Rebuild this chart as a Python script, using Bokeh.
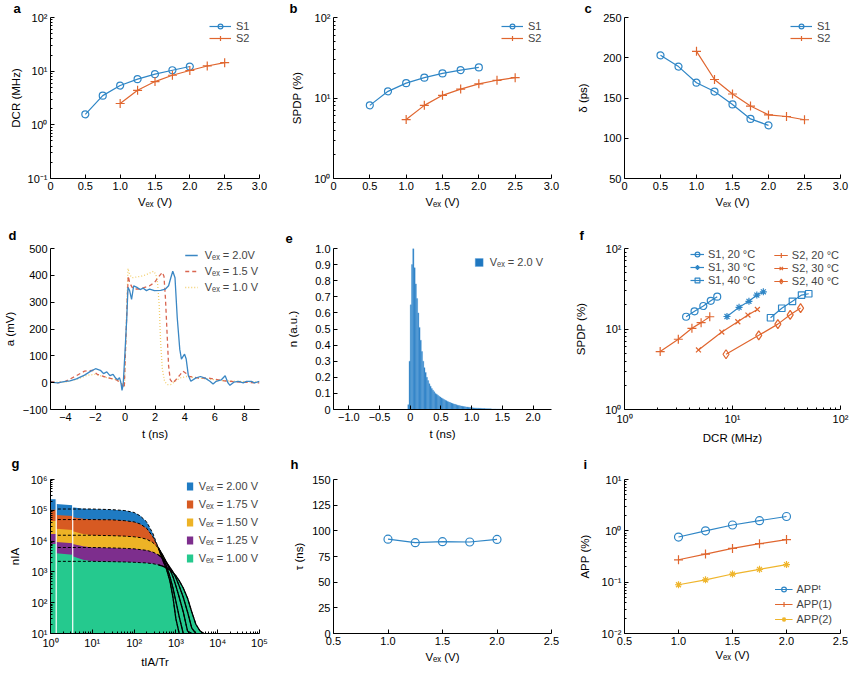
from bokeh.plotting import figure
from bokeh.layouts import gridplot
from bokeh.models import (Legend, LegendItem, Title, FixedTicker,
                          CustomJSTickFormatter, Range1d)
from bokeh.embed import file_html
from bokeh.resources import INLINE

FONT = "Liberation Sans"
TICK_FS = "11px"
AX_FS = "11.5px"
LEG_FS = "11px"
SUBX = "\u2091\u2093"  # subscript "ex"

C_BLUE = "#2f86c6"
C_ORANGE = "#e0662f"
C_YELLOW = "#efb52c"
D_BLUE = "#3a87c4"
D_RED = "#d96650"
D_YEL = "#f2cf6e"
E_BLUE = "#1f77c0"
G_COLORS = ["#1f7bc3", "#d75a22", "#edb326", "#7d2e8d", "#25c98e"]

# ---------------- data ----------------
# a, b, c
vex_s1 = [0.5, 0.75, 1.0, 1.25, 1.5, 1.75, 2.0]
vex_s2 = [1.0, 1.25, 1.5, 1.75, 2.0, 2.25, 2.5]
dcr_s1 = [1.57, 3.5, 5.4, 7.1, 8.8, 10.4, 12.2]
dcr_s2 = [2.5, 4.4, 6.4, 8.4, 10.3, 12.5, 14.4]
spdp_s1 = [8.1, 12.1, 15.3, 17.9, 20.2, 22.2, 24.0]
spdp_s2 = [5.4, 8.1, 10.8, 12.9, 15.0, 16.6, 17.9]
jit_s1 = [203, 189, 169, 158, 142, 124, 116]
jit_s2 = [208, 173, 155, 140, 129, 127, 123]

# d: pulse waveforms
d_t_20 = [-5, -4.53, -4, -3.7, -3.26, -2.72, -2.3, -1.98, -1.66, -1.45, -1.23, -1.02, -0.81, -0.64,
          -0.49, -0.38, -0.28, -0.21, -0.13, 0, 0.11, 0.19, 0.30, 0.43, 0.57, 0.79, 1.0, 1.21, 1.43,
          1.64, 1.96, 2.38, 2.70, 2.91, 3.06, 3.19, 3.34, 3.49, 3.66, 3.77, 3.87, 3.98, 4.09, 4.23,
          4.40, 4.72, 5.04, 5.36, 5.68, 5.89, 6.10, 6.43, 6.70, 6.89, 7.02, 7.28, 7.60, 7.91, 8.13,
          8.45, 8.66, 9.0]
d_a_20 = [2, -1, 5, 7, 14, 28, 43, 52, 46, 34, 40, 26, 31, 17, 11, 19, -1, -29, -7, 124, 242, 355,
          343, 310, 361, 355, 347, 352, 343, 349, 343, 344, 349, 361, 391, 415, 391, 242, 124, 88,
          97, 106, 88, 28, 5, 17, 23, 17, 5, -5, 5, 10, 26, -1, -10, 2, 5, -1, 5, 5, -1, 5]
d_t_15 = [-5, -4.5, -4, -3.36, -2.72, -2.19, -1.87, -1.23, -0.6, -0.28, -0.06, 0.04, 0.15, 0.21,
          0.30, 0.47, 0.68, 1.0, 1.32, 1.64, 1.96, 2.28, 2.49, 2.60, 2.70, 2.81, 2.91, 3.02, 3.19,
          3.40, 3.66, 3.87, 4.09, 4.30, 4.94, 5.57, 6.64, 7.70, 9.0]
d_a_15 = [5, -1, 5, 23, 43, 46, 31, 19, 11, -1, -19, 147, 325, 397, 373, 355, 349, 349, 355, 361,
          373, 397, 411, 397, 314, 183, 64, 11, -1, 11, 28, 43, 34, 23, 17, 17, 7, 2, -1]
d_t_10 = [-5, -4, -3.15, -2.51, -1.98, -1.23, -0.6, -0.17, -0.04, 0.09, 0.19, 0.30, 0.47, 0.79,
          1.11, 1.43, 1.74, 1.91, 2.06, 2.17, 2.28, 2.38, 2.49, 2.64, 2.81, 3.06, 3.34, 3.66, 4.09,
          4.94, 6.64, 9.0]
d_a_10 = [2, 2, 14, 28, 31, 19, 11, -1, -13, 242, 426, 403, 391, 394, 397, 403, 411, 415, 403, 373,
          290, 147, 52, 5, -7, -7, 5, 17, 23, 17, 7, 2]

# e: timing histogram (bin centres, width 0.02 ns)
e_t = [-0.03, -0.01, 0.01, 0.03, 0.05, 0.07, 0.09, 0.11, 0.13, 0.15, 0.17, 0.19, 0.21, 0.23, 0.25,
       0.27, 0.29, 0.31, 0.33, 0.35, 0.37, 0.39, 0.41, 0.43, 0.45, 0.47, 0.49, 0.51, 0.53, 0.55,
       0.57, 0.59, 0.61, 0.63, 0.65, 0.67, 0.69, 0.71, 0.73, 0.75, 0.77, 0.79, 0.81, 0.83, 0.85,
       0.87, 0.89, 0.91, 0.93, 0.95, 0.97, 0.99, 1.01, 1.03, 1.05, 1.07, 1.09, 1.11, 1.13, 1.15,
       1.17, 1.19, 1.21, 1.23, 1.25, 1.27, 1.29, 1.31, 1.33, 1.35, 1.37, 1.39, 1.41, 1.43, 1.45,
       1.47, 1.49]
e_n = [0.03, 0.30, 0.65, 0.90, 1.00, 0.88, 0.78, 0.69, 0.60, 0.51, 0.43, 0.36, 0.30, 0.26, 0.23,
       0.20, 0.18, 0.16, 0.145, 0.13, 0.12, 0.11, 0.10, 0.095, 0.088, 0.082, 0.077, 0.072, 0.067,
       0.062, 0.058, 0.054, 0.050, 0.046, 0.043, 0.040, 0.037, 0.034, 0.032, 0.029, 0.027, 0.025,
       0.023, 0.021, 0.020, 0.018, 0.017, 0.016, 0.015, 0.014, 0.013, 0.012, 0.011, 0.010, 0.009,
       0.009, 0.008, 0.008, 0.007, 0.007, 0.006, 0.006, 0.006, 0.005, 0.005, 0.004, 0.004, 0.004,
       0.003, 0.003, 0.003, 0.003, 0.002, 0.002, 0.002, 0.002, 0.002]
e_width = 0.02

# f: SPDP vs DCR
f_s1_20_x = [3.72, 4.45, 5.37, 6.29, 7.22]; f_s1_20_y = [14.2, 16.6, 19.3, 22.4, 25.2]
f_s1_30_x = [8.89, 11.5, 14.2, 16.8, 19.3]; f_s1_30_y = [14.3, 18.6, 22.1, 26.4, 29.0]
f_s1_40_x = [22.5, 28.6, 35.9, 43.6, 50.8]; f_s1_40_y = [13.8, 18.1, 22.1, 26.4, 27.4]
f_s2_20_x = [2.14, 3.15, 4.21, 5.12, 6.16]; f_s2_20_y = [5.24, 7.46, 10.2, 12.0, 14.2]
f_s2_30_x = [4.84, 7.96, 11.2, 13.9, 17.0]; f_s2_30_y = [5.49, 9.16, 12.3, 14.9, 17.5]
f_s2_40_x = [8.71, 17.5, 26.3, 34.2, 42.7]; f_s2_40_y = [4.86, 8.34, 11.5, 15.0, 18.2]

# g: inter-arrival histograms (upper envelope)
t_g = [1, 1.37, 1.37, 3.4, 3.4, 6, 10, 30, 60, 100, 140, 200, 280, 380, 480, 600, 720, 850,
       1000, 1200, 1500, 1900, 2400, 3000, 3800, 4700, 5800]
g_200 = [2.3e5, 2.3e5, 1.6e5, 1.45e5, 1.25e5, 1.12e5, 1.1e5, 1.05e5, 9.8e4, 8.5e4, 6.6e4, 4.2e4,
         1.8e4, 6e3, 2.5e3, 1.2e3, 500, 150, 30, 10, 10, 10, 10, 10, 10, 10, 10]
g_175 = [1.05e5, 1.05e5, 7e4, 6.5e4, 6e4, 5.3e4, 5e4, 4.9e4, 4.6e4, 4.2e4, 3.6e4, 2.6e4, 1.4e4,
         6.2e3, 3e3, 1.5e3, 700, 300, 110, 35, 10, 10, 10, 10, 10, 10, 10]
g_150 = [4.5e4, 4.5e4, 2.5e4, 2.3e4, 2.1e4, 1.7e4, 1.55e4, 1.5e4, 1.45e4, 1.38e4, 1.3e4, 1.15e4,
         9e3, 6e3, 3.6e3, 2e3, 1.2e3, 700, 350, 150, 50, 12, 10, 10, 10, 10, 10]
g_125 = [1.7e4, 1.7e4, 9.3e3, 8.5e3, 8e3, 6.8e3, 6.2e3, 6e3, 5.8e3, 5.6e3, 5.3e3, 5e3, 4.4e3,
         3.6e3, 2.8e3, 2e3, 1.4e3, 1e3, 650, 350, 150, 50, 15, 10, 10, 10, 10]
g_100 = [8e3, 8e3, 4e3, 3.6e3, 3.2e3, 2.5e3, 2.2e3, 2.15e3, 2.1e3, 2.05e3, 2e3, 1.95e3, 1.85e3,
         1.7e3, 1.55e3, 1.35e3, 1.15e3, 950, 750, 520, 300, 140, 50, 20, 12, 10, 10]
g_series = [g_200, g_175, g_150, g_125, g_100]
g_labels = [f"V{SUBX} = 2.00 V", f"V{SUBX} = 1.75 V", f"V{SUBX} = 1.50 V",
            f"V{SUBX} = 1.25 V", f"V{SUBX} = 1.00 V"]
g_gaps = [1.37, 3.4]
g_floor = 10

# h
vex_h = [1.0, 1.25, 1.5, 1.75, 2.0]
tau_h = [91.9, 88.5, 89.4, 89.1, 91.6]

# i
vex_i = [1.0, 1.25, 1.5, 1.75, 2.0]
app_t = [0.757, 1.00, 1.30, 1.58, 1.90]
app_1 = [0.273, 0.352, 0.454, 0.562, 0.676]
app_2 = [0.089, 0.111, 0.144, 0.178, 0.220]

# ---------------- helpers ----------------
LOG_JS = r"""
const s = {'-':'\u207b','0':'\u2070','1':'\u00b9','2':'\u00b2','3':'\u00b3','4':'\u2074',
           '5':'\u2075','6':'\u2076','7':'\u2077','8':'\u2078','9':'\u2079'};
const e = Math.round(Math.log10(tick));
return '10' + String(e).split('').map(c => s[c]).join('');
"""
DEC1_JS = r"""
if (Math.abs(tick) < 1e-9) { return '0'; }
return tick.toFixed(1).replace('-', '\u2212');
"""
INT_JS = r"""
if (Math.abs(tick) < 1e-9) { return '0'; }
return tick.toFixed(0).replace('-', '\u2212');
"""

W = 283


def make_fig(xr, yr, borders, xlabel, ylabel, xs, ys, xlog=False, ylog=False, h=223):
    l, r, t, b = borders
    p = figure(width=W, height=h, x_range=Range1d(*xr), y_range=Range1d(*yr),
               x_axis_type="log" if xlog else "linear",
               y_axis_type="log" if ylog else "linear",
               output_backend="svg", toolbar_location=None, title=None,
               min_border_left=l, min_border_right=r, min_border_top=t, min_border_bottom=b)
    p.xgrid.visible = False
    p.ygrid.visible = False
    p.outline_line_color = None
    for ax in (p.xaxis[0], p.yaxis[0]):
        ax.axis_line_color = "black"
        ax.major_tick_in = 4
        ax.major_tick_out = 0
        ax.minor_tick_in = 2
        ax.minor_tick_out = 0
        ax.major_tick_line_color = "black"
        ax.minor_tick_line_color = "black"
        ax.major_label_text_font = FONT
        ax.major_label_text_font_size = TICK_FS
        ax.major_label_text_color = "black"
        ax.major_label_standoff = 3
        ax.axis_label_text_font = FONT
        ax.axis_label_text_font_size = AX_FS
        ax.axis_label_text_font_style = "normal"
        ax.axis_label_text_color = "black"
    p.xaxis.axis_label = xlabel
    p.yaxis.axis_label = ylabel
    p.xaxis.axis_label_standoff = xs
    p.yaxis.axis_label_standoff = ys
    if not xlog:
        p.xaxis.minor_tick_line_color = None
    if not ylog:
        p.yaxis.minor_tick_line_color = None
    return p


def letter(p, t, offset, standoff):
    p.add_layout(Title(text=t, align="left", offset=offset, standoff=standoff,
                       vertical_align="top", text_font=FONT, text_font_size="13px",
                       text_font_style="bold", text_color="black"), "above")


def log_axis(ax, lo, hi):
    ax.ticker = FixedTicker(ticks=[10.0 ** k for k in range(lo, hi + 1)],
                            minor_ticks=[m * 10.0 ** k for k in range(lo, hi) for m in range(2, 10)])
    ax.formatter = CustomJSTickFormatter(code=LOG_JS)


def lin_axis(ax, ticks, js):
    ax.ticker = FixedTicker(ticks=ticks)
    ax.formatter = CustomJSTickFormatter(code=js)


def legend(p, items, loc, gw=22, gh=12, lh=12, sp=0, standoff=5, margin=0, fs=LEG_FS):
    lg = Legend(items=items, location=loc, orientation="vertical",
                background_fill_alpha=0, border_line_alpha=0,
                label_text_font=FONT, label_text_font_size=fs,
                glyph_width=gw, glyph_height=gh, label_height=lh,
                spacing=sp, padding=0, margin=margin, label_standoff=standoff)
    p.add_layout(lg)


def series(p, x, y, color, marker, size=7):
    r1 = p.line(x, y, line_color=color, line_width=1.2)
    r2 = p.scatter(x, y, marker=marker, size=size, line_color=color, fill_color=None,
                   line_width=1.2)
    return [r1, r2]


VEX = f"V{SUBX} (V)"
X_TICKS_03 = [0, 0.5, 1, 1.5, 2, 2.5, 3]

# ---------------- a ----------------
pa = make_fig((0, 3), (0.1, 100), (38, 24, 15, 44), VEX, "DCR (MHz)", 3, 3, ylog=True)
lin_axis(pa.xaxis[0], X_TICKS_03, DEC1_JS)
log_axis(pa.yaxis[0], -1, 2)
ra1 = series(pa, vex_s1, dcr_s1, C_BLUE, "circle")
ra2 = series(pa, vex_s2, dcr_s2, C_ORANGE, "cross", size=9)
legend(pa, [LegendItem(label="S1", renderers=ra1), LegendItem(label="S2", renderers=ra2)],
       "top_right", margin=3)
letter(pa, "a", -37, 0)

# ---------------- b ----------------
pb = make_fig((0, 3), (1, 100), (47, 15, 15, 44), VEX, "SPDP (%)", 3, 8, ylog=True)
lin_axis(pb.xaxis[0], X_TICKS_03, DEC1_JS)
log_axis(pb.yaxis[0], 0, 2)
rb1 = series(pb, vex_s1, spdp_s1, C_BLUE, "circle")
rb2 = series(pb, vex_s2, spdp_s2, C_ORANGE, "cross", size=9)
legend(pb, [LegendItem(label="S1", renderers=rb1), LegendItem(label="S2", renderers=rb2)],
       "top_right", margin=3)
letter(pb, "b", -44, 0)

# ---------------- c ----------------
pc = make_fig((0, 3), (50, 250), (54, 8, 16, 45), VEX, "\u03b4 (ps)", 3, 11)
lin_axis(pc.xaxis[0], X_TICKS_03, DEC1_JS)
lin_axis(pc.yaxis[0], [50, 100, 150, 200, 250], INT_JS)
rc1 = series(pc, vex_s1, jit_s1, C_BLUE, "circle")
rc2 = series(pc, vex_s2, jit_s2, C_ORANGE, "cross", size=9)
legend(pc, [LegendItem(label="S1", renderers=rc1), LegendItem(label="S2", renderers=rc2)],
       "top_right", margin=3)
letter(pc, "c", -40, 0)

# ---------------- d ----------------
pd_ = make_fig((-5, 9), (-100, 500), (43, 20, 22, 33), "t (ns)", "a (mV)", 4, 4)
lin_axis(pd_.xaxis[0], [-4, -2, 0, 2, 4, 6, 8], INT_JS)
lin_axis(pd_.yaxis[0], [-100, 0, 100, 200, 300, 400, 500], INT_JS)
rd3 = pd_.line(d_t_10, d_a_10, line_color=D_YEL, line_width=1.3, line_dash="1 2")
rd2 = pd_.line(d_t_15, d_a_15, line_color=D_RED, line_width=1.3, line_dash="4 3")
rd1 = pd_.line(d_t_20, d_a_20, line_color=D_BLUE, line_width=1.3)
legend(pd_, [LegendItem(label=f"V{SUBX} = 2.0V", renderers=[rd1]),
             LegendItem(label=f"V{SUBX} = 1.5 V", renderers=[rd2]),
             LegendItem(label=f"V{SUBX} = 1.0 V", renderers=[rd3])],
       "top_right", gw=13, gh=12, lh=12, sp=4, standoff=7, margin=1)
letter(pd_, "d", -42, 8)

# ---------------- e ----------------
pe = make_fig((-1.25, 2.3), (0, 1.0), (50, 10, 22, 33), "t (ns)", "n (a.u.)", 4, 13)
lin_axis(pe.xaxis[0], [-1, -0.5, 0, 0.5, 1, 1.5, 2], DEC1_JS)
lin_axis(pe.yaxis[0], [0, 0.1, 0.2, 0.3, 0.4, 0.5, 0.6, 0.7, 0.8, 0.9, 1.0], DEC1_JS)
re1 = pe.vbar(x=e_t, top=e_n, width=e_width, bottom=0, fill_color=E_BLUE,
              line_color="#5fa4dc", line_width=0.4)
legend(pe, [LegendItem(label=f"V{SUBX} = 2.0 V", renderers=[re1])],
       "top_right", gw=10, gh=10, lh=12, standoff=6, margin=8)
letter(pe, "e", -48, 8)

# ---------------- f ----------------
pf = make_fig((1, 100), (1, 100), (58, 9, 22, 36), "DCR (MHz)", "SPDP (%)", 4, 15,
              xlog=True, ylog=True)
log_axis(pf.xaxis[0], 0, 2)
log_axis(pf.yaxis[0], 0, 2)
rf1 = series(pf, f_s1_20_x, f_s1_20_y, C_BLUE, "circle")
rf2 = series(pf, f_s1_30_x, f_s1_30_y, C_BLUE, "asterisk")
rf3 = series(pf, f_s1_40_x, f_s1_40_y, C_BLUE, "square", size=6.5)
rf4 = series(pf, f_s2_20_x, f_s2_20_y, C_ORANGE, "cross", size=9)
rf5 = series(pf, f_s2_30_x, f_s2_30_y, C_ORANGE, "x", size=7)
rf6 = series(pf, f_s2_40_x, f_s2_40_y, C_ORANGE, "diamond", size=9)
legend(pf, [LegendItem(label="S1, 20 \u00b0C", renderers=rf1),
            LegendItem(label="S1, 30 \u00b0C", renderers=rf2),
            LegendItem(label="S1, 40 \u00b0C", renderers=rf3)],
       (66, 123), gw=14, gh=12, lh=12, sp=1, standoff=4)
legend(pf, [LegendItem(label="S2, 20 \u00b0C", renderers=rf4),
            LegendItem(label="S2, 30 \u00b0C", renderers=rf5),
            LegendItem(label="S2, 40 \u00b0C", renderers=rf6)],
       "top_right", gw=14, gh=12, lh=12, sp=1, standoff=4, margin=1)
letter(pf, "f", -45, 8)

# ---------------- g ----------------
pg = make_fig((1, 1e5), (10, 1e6), (40, 24, 33, 32), "tIA/Tr", "nIA", 4, 7,
              xlog=True, ylog=True, h=224)
log_axis(pg.xaxis[0], 0, 5)
log_axis(pg.yaxis[0], 1, 6)
g_rends = []
for vals, col in zip(g_series, G_COLORS):
    g_rends.append(pg.varea(x=t_g, y1=[g_floor] * len(t_g), y2=vals, fill_color=col))
pg.segment(x0=g_gaps, y0=[g_floor] * len(g_gaps), x1=g_gaps, y1=[1e6] * len(g_gaps),
           line_color="white", line_width=1.2)
for vals in g_series:
    end = next(i for i, v in enumerate(vals) if i > 5 and v <= g_floor)
    fx = [1.5] + t_g[6:end + 1]
    fy = [vals[6]] + vals[6:end + 1]
    pg.line(fx, fy, line_color="black", line_width=1, line_dash="3 2")
    pg.line(t_g[13:end + 1], vals[13:end + 1], line_color="black", line_width=1.3)
legend(pg, [LegendItem(label=lab, renderers=[r]) for lab, r in zip(g_labels, g_rends)],
       "top_right", gw=8, gh=10, lh=10, sp=6, standoff=5, margin=1)
letter(pg, "g", -39, 14)

# ---------------- h ----------------
ph = make_fig((0.5, 2.5), (0, 150), (46, 15, 29, 34), VEX, "\u03c4 (ns)", 3, 4, h=224)
lin_axis(ph.xaxis[0], [0.5, 1, 1.5, 2, 2.5], DEC1_JS)
lin_axis(ph.yaxis[0], [0, 25, 50, 75, 100, 125, 150], INT_JS)
series(ph, vex_h, tau_h, C_BLUE, "circle", size=8)
letter(ph, "h", -43, 12)

# ---------------- i ----------------
pi_ = make_fig((0.5, 2.5), (0.01, 10), (55, 8, 29, 32), VEX, "APP (%)", 1, 8, ylog=True, h=224)
lin_axis(pi_.xaxis[0], [0.5, 1, 1.5, 2, 2.5], DEC1_JS)
log_axis(pi_.yaxis[0], -2, 1)
ri1 = series(pi_, vex_i, app_t, C_BLUE, "circle", size=8)
ri2 = series(pi_, vex_i, app_1, C_ORANGE, "cross", size=9)
ri3 = series(pi_, vex_i, app_2, C_YELLOW, "asterisk", size=7)
legend(pi_, [LegendItem(label="APP\u1d57", renderers=ri1),
             LegendItem(label="APP(1)", renderers=ri2),
             LegendItem(label="APP(2)", renderers=ri3)],
       "bottom_right", gw=18, gh=12, lh=12, sp=3, standoff=4, margin=8)
letter(pi_, "i", -41, 12)

grid = gridplot([[pa, pb, pc], [pd_, pe, pf], [pg, ph, pi_]], toolbar_location=None)

open("out.html", "w").write(file_html(grid, INLINE))
